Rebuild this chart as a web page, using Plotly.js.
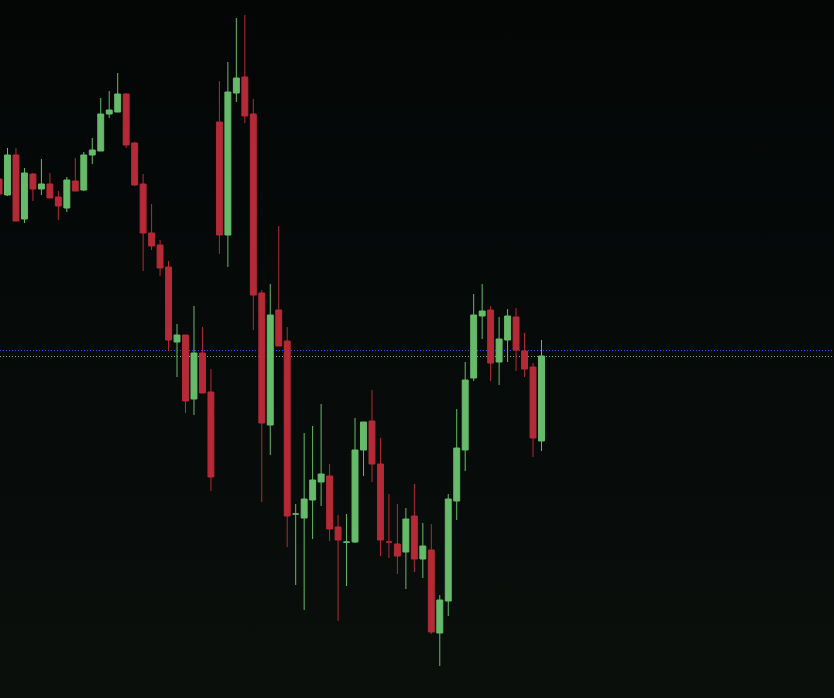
<!DOCTYPE html>
<html>
<head>
<meta charset="utf-8">
<script src="https://cdn.plot.ly/plotly-3.0.1.min.js"></script>
<style>
  html, body { margin: 0; padding: 0; width: 834px; height: 698px; overflow: hidden;
    background: linear-gradient(to bottom, #040606 0%, #060a09 50%, #0a0f0c 100%); }
  #chart { width: 834px; height: 698px; }
</style>
</head>
<body>
<div id="chart"></div>
<script>
// Bar index (one per candle)
const bars = [];
for (let i = 0; i <= 64; i++) bars.push(i);

// Price values in chart points (higher = up)
const openVals = [521, 505, 545, 481, 526, 511, 516, 503, 492, 519, 510, 545, 549, 586, 588,
  606, 557, 516, 467, 455, 433, 358, 365, 301, 347, 308, 578, 465, 607, 623, 586, 407, 275,
  390, 359, 186, 182, 200, 218, 224, 173, 157.7, 158, 250, 279, 236, 158, 156, 148, 184, 141,
  150, 67, 99, 199, 250, 322, 384, 390, 338, 360, 383, 349, 333, 259];
const highVals = [524, 552, 552, 532, 527, 541, 527, 509, 523, 542, 548, 562, 602, 609, 627,
  607, 558, 526, 496, 460, 439, 376, 365, 394, 373, 331, 619, 638, 682, 685, 601, 410, 416,
  474, 373, 196, 267, 274, 296, 236, 185, 186, 282, 278, 310, 262, 206, 196, 192, 216, 177,
  176, 105, 206, 291, 338, 406, 416, 394, 383, 391, 392, 367, 337, 360];
const lowVals = [504, 504, 479, 477, 499, 505, 502, 480, 488, 509, 509, 536, 549, 582, 588,
  552, 514, 429, 450, 424, 349, 323, 287, 285, 307, 209, 446, 433, 598, 577, 370, 198, 245,
  354, 153, 115, 90, 161, 194, 159, 79, 114, 157, 224, 218, 144, 142, 126, 111, 128, 122,
  66, 34, 84, 180, 229, 319, 361, 319, 315, 338, 329, 323, 243, 249];
const closeVals = [506, 545, 479, 527, 511, 516, 502, 494, 520, 509, 545, 550, 586, 590, 606,
  555, 515, 467, 454, 432, 360, 365, 299, 347, 307, 223, 465, 608, 622, 584, 405, 277, 385,
  354, 184, 186, 201, 220, 226, 171, 160, 158, 250, 278, 236, 160, 158, 144, 181, 141, 154,
  68, 100, 201, 252, 320, 385, 389, 337, 361, 384, 350, 331, 262, 344];

// Horizontal reference levels
const levelVals = [349.5, 343.5];
const levelColors = ['#1f55ff', '#63b96a'];

const GREEN = '#66bb6a';
const RED = '#b52a37';

const trace = {
  type: 'candlestick',
  x: bars,
  open: openVals,
  high: highVals,
  low: lowVals,
  close: closeVals,
  increasing: { line: { color: GREEN, width: 1 }, fillcolor: GREEN },
  decreasing: { line: { color: RED, width: 1 }, fillcolor: RED },
  whiskerwidth: 0,
  hoverinfo: 'skip',
  showlegend: false
};

const shapes = levelVals.map((v, k) => ({
  type: 'line', xref: 'paper', x0: 0, x1: 1, yref: 'y', y0: v, y1: v,
  line: { color: levelColors[k], width: 1, dash: '1px,2px' },
  layer: 'below'
}));

const layout = {
  width: 834, height: 698,
  margin: { l: 0, r: 0, t: 0, b: 0, pad: 0 },
  paper_bgcolor: 'rgba(0,0,0,0)',
  plot_bgcolor: 'rgba(0,0,0,0)',
  showlegend: false,
  boxgap: 0.3,
  boxgroupgap: 0,
  xaxis: { range: [0.115, 98.51], visible: false, fixedrange: true,
           rangeslider: { visible: false }, showgrid: false, zeroline: false },
  yaxis: { range: [2, 700], visible: false, fixedrange: true,
           showgrid: false, zeroline: false },
  shapes: shapes,
  hovermode: false
};

Plotly.newPlot('chart', [trace], layout, { staticPlot: true, displayModeBar: false });
</script>
</body>
</html>
